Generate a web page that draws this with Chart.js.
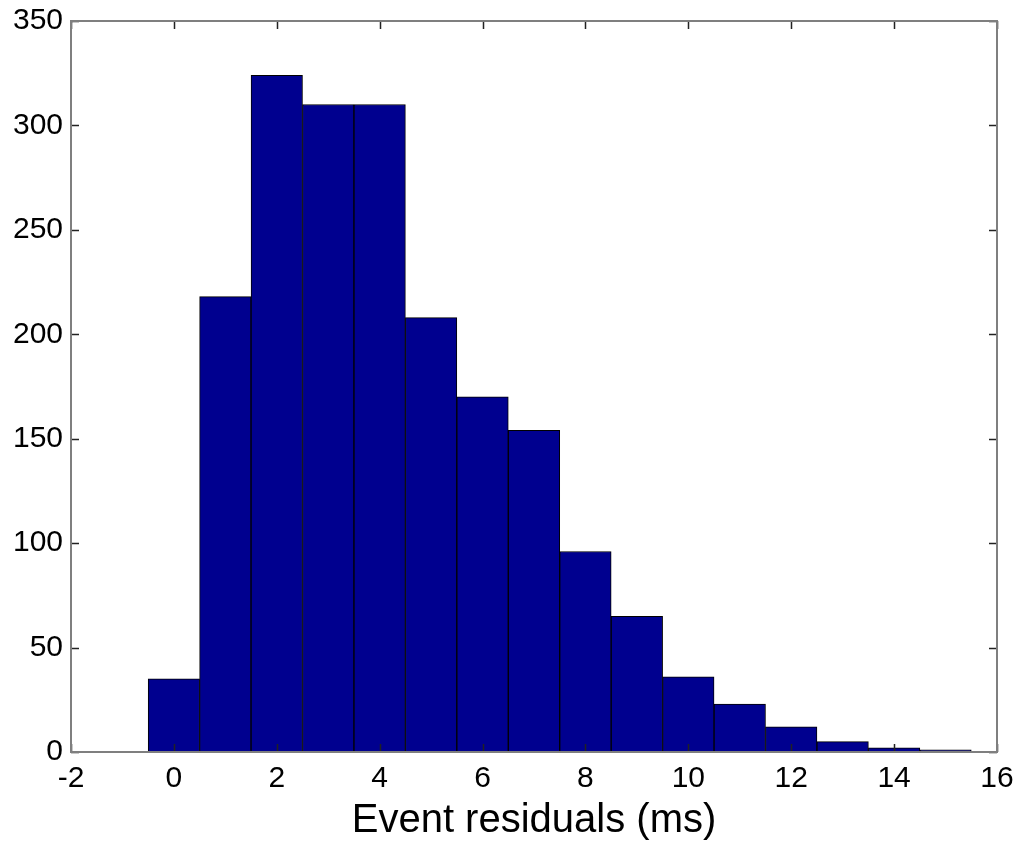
<!DOCTYPE html>
<html>
<head>
<meta charset="utf-8">
<script src="https://cdn.jsdelivr.net/npm/chart.js@4/dist/chart.umd.min.js"></script>
<style>
html,body{margin:0;padding:0;background:#fff;}
#wrap{width:1022px;height:845px;position:relative;}
</style>
</head>
<body>
<div id="wrap"><canvas id="c"></canvas></div>
<script>
const binCenters = [0,1,2,3,4,5,6,7,8,9,10,11,12,13,14,15];
const counts = [35,218,324,310,310,208,170,154,96,65,36,23,12,5,2,1];
const xTicks = [-2,0,2,4,6,8,10,12,14,16];
const yTicks = [0,50,100,150,200,250,300,350];
const xLabel = 'Event residuals (ms)';

const FONT = '"Liberation Sans", Arial, Helvetica, sans-serif';
const PLOT = {left:71, right:997, top:21, bottom:752};

const boxPlugin = {
  id:'boxTicks',
  afterDatasetsDraw(chart){
    const {ctx, chartArea:a, scales:{x,y}} = chart;
    ctx.save();
    const tl = 8;
    ctx.strokeStyle = '#222';
    ctx.lineWidth = 1.5;
    ctx.beginPath();
    xTicks.forEach(v=>{
      const px = Math.round(x.getPixelForValue(v))+0.5;
      ctx.moveTo(px,a.bottom); ctx.lineTo(px,a.bottom-tl);
      ctx.moveTo(px,a.top); ctx.lineTo(px,a.top+tl);
    });
    yTicks.forEach(v=>{
      const py = Math.round(y.getPixelForValue(v))+0.5;
      ctx.moveTo(a.left,py); ctx.lineTo(a.left+tl,py);
      ctx.moveTo(a.right,py); ctx.lineTo(a.right-tl,py);
    });
    ctx.stroke();
    ctx.strokeStyle = '#7f7f7f';
    ctx.lineWidth = 2;
    ctx.strokeRect(a.left, a.top, a.right-a.left, a.bottom-a.top);
    ctx.restore();
  }
};

new Chart(document.getElementById('c'), {
  type:'bar',
  data:{
    datasets:[{
      data: binCenters.map((c,i)=>({x:c, y:counts[i]})),
      backgroundColor:'#00008f',
      borderColor:'#000000',
      borderWidth:1,
      borderSkipped:false,
      barPercentage:1,
      categoryPercentage:1
    }]
  },
  options:{
    responsive:true,
    maintainAspectRatio:false,
    animation:false,
    layout:{padding:{left:0,right:1022-PLOT.right,top:PLOT.top,bottom:0}},
    plugins:{legend:{display:false},tooltip:{enabled:false}},
    scales:{
      x:{
        type:'linear',
        offset:false,
        min:-2, max:16,
        afterBuildTicks(s){ s.ticks = xTicks.map(v=>({value:v})); },
        afterFit(s){ s.height = 845 - PLOT.bottom; },
        grid:{display:false},
        border:{display:false},
        ticks:{font:{family:FONT,size:30},color:'#000',padding:1,maxRotation:0},
        title:{display:true,text:xLabel,color:'#000',font:{family:FONT,size:40},padding:{top:0,bottom:0}}
      },
      y:{
        min:0, max:350,
        afterBuildTicks(s){ s.ticks = yTicks.map(v=>({value:v})); },
        afterFit(s){ s.width = PLOT.left; },
        grid:{display:false},
        border:{display:false},
        ticks:{font:{family:FONT,size:30},color:'#000',padding:0}
      }
    }
  },
  plugins:[boxPlugin]
});
</script>
</body>
</html>
